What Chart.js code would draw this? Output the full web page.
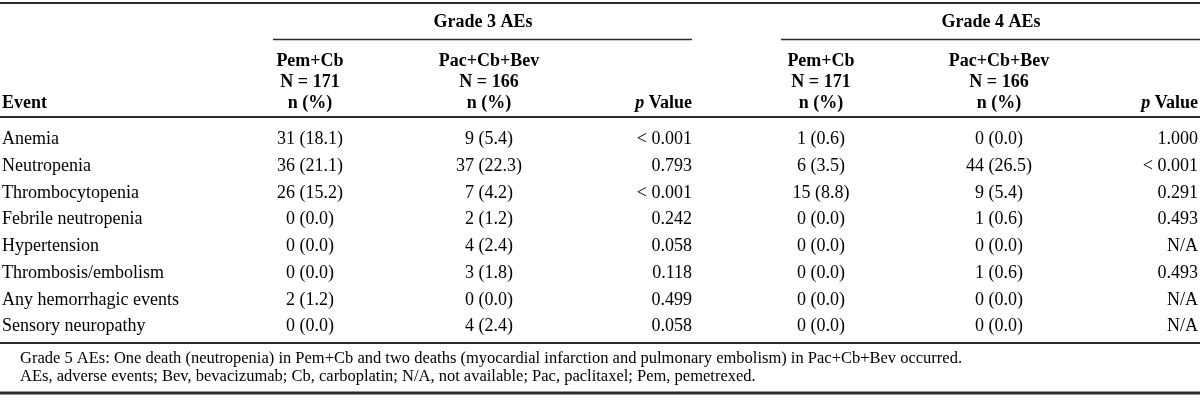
<!DOCTYPE html>
<html>
<head>
<meta charset="utf-8">
<script src="https://cdn.jsdelivr.net/npm/chart.js@4/dist/chart.umd.min.js"></script>
<style>
html,body{margin:0;padding:0;background:#fff;}
#wrap{width:1200px;height:406px;}
</style>
</head>
<body>
<div id="wrap"><canvas id="c" width="1200" height="406"></canvas></div>
<script>
// ---------- data ----------
const events = ["Anemia","Neutropenia","Thrombocytopenia","Febrile neutropenia","Hypertension","Thrombosis/embolism","Any hemorrhagic events","Sensory neuropathy"];
const g3PemN   = [31, 36, 26, 0, 0, 0, 2, 0];
const g3PemPct = [18.1, 21.1, 15.2, 0.0, 0.0, 0.0, 1.2, 0.0];
const g3PacN   = [9, 37, 7, 2, 4, 3, 0, 4];
const g3PacPct = [5.4, 22.3, 4.2, 1.2, 2.4, 1.8, 0.0, 2.4];
const g3P      = ["< 0.001","0.793","< 0.001","0.242","0.058","0.118","0.499","0.058"];
const g4PemN   = [1, 6, 15, 0, 0, 0, 0, 0];
const g4PemPct = [0.6, 3.5, 8.8, 0.0, 0.0, 0.0, 0.0, 0.0];
const g4PacN   = [0, 44, 9, 1, 0, 1, 0, 0];
const g4PacPct = [0.0, 26.5, 5.4, 0.6, 0.0, 0.6, 0.0, 0.0];
const g4P      = ["1.000","< 0.001","0.291","0.493","N/A","0.493","N/A","N/A"];
const groupTitles = ["Grade 3 AEs","Grade 4 AEs"];
const armPem = ["Pem+Cb","N = 171","n (%)"];
const armPac = ["Pac+Cb+Bev","N = 166","n (%)"];
const eventHeader = "Event";
const pHeader = ["p"," Value"];
const footnotes = [
  "Grade 5 AEs: One death (neutropenia) in Pem+Cb and two deaths (myocardial infarction and pulmonary embolism) in Pac+Cb+Bev occurred.",
  "AEs, adverse events; Bev, bevacizumab; Cb, carboplatin; N/A, not available; Pac, paclitaxel; Pem, pemetrexed."
];

// ---------- layout (positions on the x scale, 0..1200) ----------
const COL = {event:2, g3Pem:310, g3Pac:489, g3P:692, g4Pem:821, g4Pac:999, g4P:1198};
const GROUP = [{from:273, to:692, center:483}, {from:781, to:1200, center:991}];
const FONT = '"Liberation Serif","Times New Roman",serif';
const fmt = (n, p) => n + " (" + p.toFixed(1) + ")";

function colData(key){ return events.map(e => ({x: COL[key], y: e})); }

const columns = [
  {key:'event', texts: events, align:'left'},
  {key:'g3Pem', texts: g3PemN.map((n,i)=>fmt(n,g3PemPct[i])), align:'center'},
  {key:'g3Pac', texts: g3PacN.map((n,i)=>fmt(n,g3PacPct[i])), align:'center'},
  {key:'g3P',   texts: g3P, align:'right'},
  {key:'g4Pem', texts: g4PemN.map((n,i)=>fmt(n,g4PemPct[i])), align:'center'},
  {key:'g4Pac', texts: g4PacN.map((n,i)=>fmt(n,g4PacPct[i])), align:'center'},
  {key:'g4P',   texts: g4P, align:'right'}
];

const tablePlugin = {
  id: 'tablePlugin',
  afterDatasetsDraw(chart){
    const ctx = chart.ctx;
    const xs = chart.scales.x;
    const X = v => xs.getPixelForValue(v);
    ctx.save();
    ctx.fillStyle = '#000';
    ctx.textBaseline = 'middle';
    // body cells
    ctx.font = '18px ' + FONT;
    chart.data.datasets.forEach((ds, di) => {
      const meta = chart.getDatasetMeta(di);
      ctx.textAlign = ds.align;
      meta.data.forEach((el, i) => { ctx.fillText(ds.texts[i], el.x, el.y); });
    });
    // headers
    ctx.font = 'bold 18px ' + FONT;
    ctx.textAlign = 'center';
    ctx.fillText(groupTitles[0], X(GROUP[0].center), 22);
    ctx.fillText(groupTitles[1], X(GROUP[1].center), 22);
    const hy = [61, 82, 103];
    [['g3Pem',armPem],['g3Pac',armPac],['g4Pem',armPem],['g4Pac',armPac]].forEach(([k,arr]) => {
      arr.forEach((t, j) => ctx.fillText(t, X(COL[k]), hy[j]));
    });
    ctx.textAlign = 'left';
    ctx.fillText(eventHeader, X(COL.event), hy[2]);
    // p Value headers (italic p)
    ['g3P','g4P'].forEach(k => {
      ctx.font = 'bold 18px ' + FONT;
      const wv = ctx.measureText(pHeader[1]).width;
      ctx.font = 'italic bold 18px ' + FONT;
      const wp = ctx.measureText(pHeader[0]).width;
      const right = X(COL[k]);
      ctx.textAlign = 'left';
      ctx.fillText(pHeader[0], right - wv - wp, hy[2]);
      ctx.font = 'bold 18px ' + FONT;
      ctx.fillText(pHeader[1], right - wv, hy[2]);
    });
    // footnotes
    ctx.font = '16.5px ' + FONT;
    ctx.textAlign = 'left';
    ctx.fillText(footnotes[0], X(20), 359);
    ctx.fillText(footnotes[1], X(20), 377);
    // rules
    ctx.strokeStyle = '#2b2b2b';
    const rule = (x1, x2, y, w) => { ctx.lineWidth = w; ctx.beginPath(); ctx.moveTo(X(x1), y); ctx.lineTo(X(x2), y); ctx.stroke(); };
    rule(0, 1200, 3, 2);
    rule(GROUP[0].from, GROUP[0].to, 39.5, 1.5);
    rule(GROUP[1].from, GROUP[1].to, 39.5, 1.5);
    rule(0, 1200, 117, 2);
    rule(0, 1200, 343, 2);
    rule(0, 1200, 393, 3);
    ctx.restore();
  }
};

new Chart(document.getElementById('c'), {
  type: 'scatter',
  data: {
    labels: events,
    datasets: columns.map(c => ({ label: c.key, data: colData(c.key), texts: c.texts, align: c.align, pointRadius: 0, pointHoverRadius: 0, showLine: false }))
  },
  options: {
    responsive: false,
    animation: false,
    devicePixelRatio: 1,
    layout: { padding: { left: 0, right: 0, top: 126, bottom: 66 } },
    plugins: { legend: { display: false }, tooltip: { enabled: false } },
    events: [],
    scales: {
      x: { type: 'linear', min: 0, max: 1200, display: false },
      y: { type: 'category', labels: events, offset: true, display: false }
    }
  },
  plugins: [tablePlugin]
});
</script>
</body>
</html>
